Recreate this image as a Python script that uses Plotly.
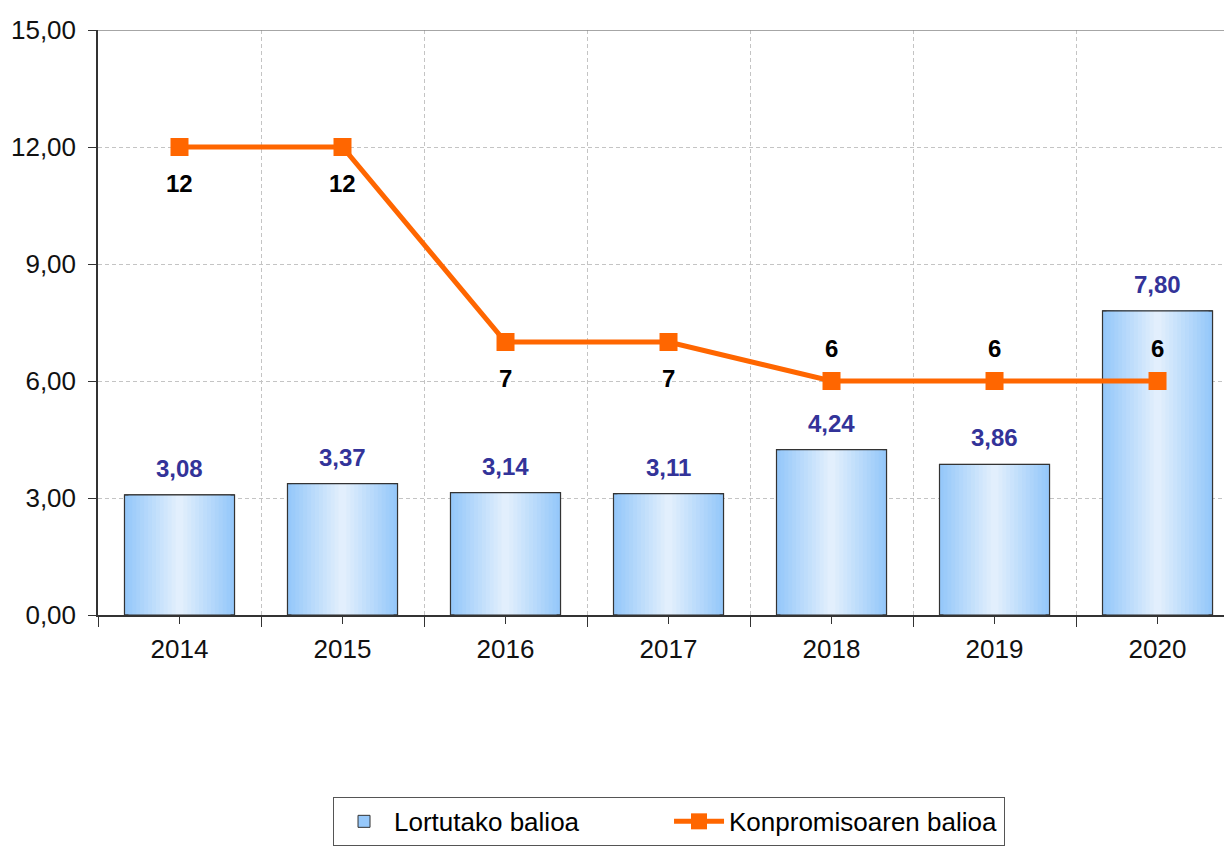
import plotly.graph_objects as go

years = [2014, 2015, 2016, 2017, 2018, 2019, 2020]
achieved = [3.08, 3.37, 3.14, 3.11, 4.24, 3.86, 7.80]
achieved_labels = ["3,08", "3,37", "3,14", "3,11", "4,24", "3,86", "7,80"]
commitment = [12, 12, 7, 7, 6, 6, 6]
commitment_labels = ["12", "12", "7", "7", "6", "6", "6"]
commitment_label_side = ["below", "below", "below", "below", "above", "above", "above"]
y_ticks = [0, 3, 6, 9, 12, 15]

BAR_W = 0.675
FONT = "Liberation Sans, Arial, sans-serif"

fig = go.Figure()

# gradient-filled bars built from stacked, narrowing layers
edge = (150, 200, 250)
center = (226, 239, 253)
n = 14
for i in range(n):
    f = i / (n - 1)
    c = tuple(int(edge[k] + (center[k] - edge[k]) * f) for k in range(3))
    fig.add_trace(go.Bar(
        x=years, y=achieved, width=BAR_W * (1 - i / n),
        marker=dict(color="rgb(%d,%d,%d)" % c,
                    line=dict(color="#333333", width=1 if i == 0 else 0)),
        name="Lortutako balioa", showlegend=(i == 0), hoverinfo="skip",
    ))
# outline on top
fig.add_trace(go.Bar(
    x=years, y=achieved, width=BAR_W,
    marker=dict(color="rgba(0,0,0,0)", line=dict(color="#333333", width=1.2)),
    showlegend=False, hoverinfo="skip",
))

fig.add_trace(go.Scatter(
    x=years, y=commitment, mode="lines+markers",
    line=dict(color="#ff6600", width=5),
    marker=dict(symbol="square", size=18, color="#ff6600"),
    name="Konpromisoaren balioa",
))

annotations = []
for x, v, t in zip(years, achieved, achieved_labels):
    annotations.append(dict(x=x, y=v, text="<b>%s</b>" % t, showarrow=False,
                            yanchor="bottom", yshift=11,
                            font=dict(family=FONT, size=24, color="#333399")))
for x, v, t, s in zip(years, commitment, commitment_labels, commitment_label_side):
    annotations.append(dict(x=x, y=v, text="<b>%s</b>" % t, showarrow=False,
                            yanchor="middle", yshift=(-36 if s == "below" else 33),
                            font=dict(family=FONT, size=24, color="#000000")))

fig.update_layout(
    width=1232, height=851,
    margin=dict(l=90, r=0, t=22, b=244),
    paper_bgcolor="white", plot_bgcolor="white",
    barmode="overlay",
    separators=",.",
    font=dict(family=FONT, size=26, color="#111111"),
    annotations=annotations,
    showlegend=True,
    legend=dict(orientation="h", x=0.2058, xanchor="left", y=-0.311, yanchor="top",
                bordercolor="#555555", borderwidth=1, entrywidth=270,
                font=dict(family=FONT, size=26, color="#000000"),
                itemwidth=50, tracegroupgap=0),
    shapes=[dict(type="line", xref="paper", yref="y", x0=0, x1=1, y0=15, y1=15,
                 line=dict(color="#888888", width=1.5))],
)

fig.update_xaxes(
    range=[2013.5, 2020.506], tickvals=years, ticktext=[str(y) for y in years],
    showgrid=False, ticks="outside", ticklen=7, tickcolor="#333333",
    showline=True, linecolor="#333333", linewidth=1.5,
    tickfont=dict(family=FONT, size=26, color="#111111"),
    ticklabelstandoff=3,
    minor=dict(tick0=2013.5, dtick=1, ticks="outside", ticklen=10, tickcolor="#333333",
               showgrid=True, gridcolor="#c4c4c4", griddash="4px,3px", gridwidth=1),
    zeroline=False,
)
fig.update_yaxes(
    range=[0, 15], tickvals=y_ticks, tickformat=".2f",
    showgrid=True, gridcolor="#c4c4c4", griddash="4px,3px", gridwidth=1,
    ticks="outside", ticklen=8, tickcolor="#333333",
    showline=True, linecolor="#333333", linewidth=1.5,
    tickfont=dict(family=FONT, size=26, color="#111111"),
    ticklabelstandoff=7,
    zeroline=False,
)

fig.write_html("out.html")
